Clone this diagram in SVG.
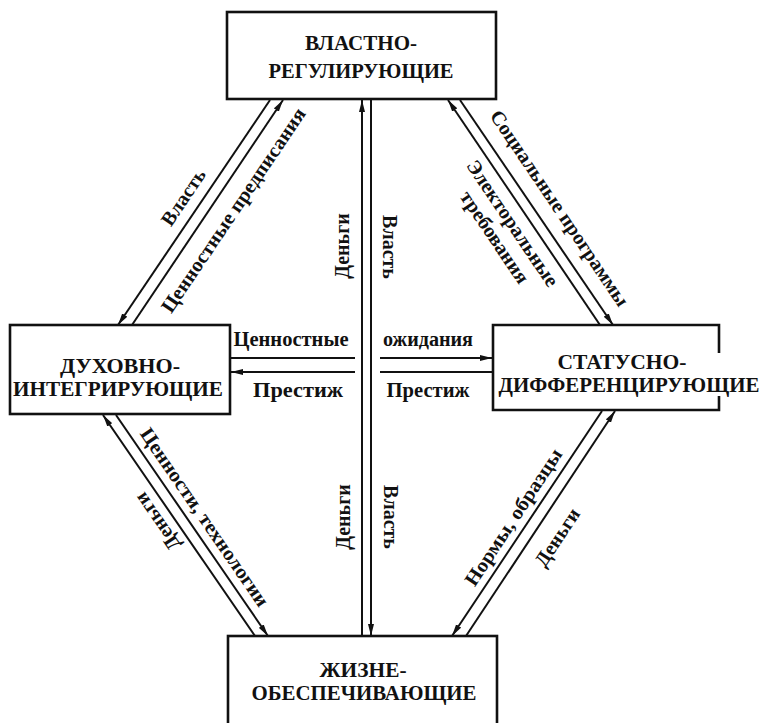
<svg xmlns="http://www.w3.org/2000/svg" width="763" height="723" viewBox="0 0 763 723">
<defs>
<marker id="ah" markerUnits="userSpaceOnUse" markerWidth="13" markerHeight="7" refX="12" refY="3.5" orient="auto">
<path d="M0,0.5 L12,3.5 L0,6.5 z" fill="#111"/>
</marker>
<style>
.box{fill:#fff;stroke:#111;stroke-width:2.6}
.bt{font-family:"Liberation Serif","DejaVu Serif",serif;font-weight:bold;font-size:22px;fill:#111;text-anchor:middle}
.bs{font-size:20px}
.lb{font-family:"Liberation Serif","DejaVu Serif",serif;font-weight:bold;font-size:20px;fill:#111;text-anchor:middle}
.ln{stroke:#111;stroke-width:2;fill:none}
.ar{marker-end:url(#ah)}
</style>
</defs>
<rect width="763" height="723" fill="#fff"/>

<g id="connectors">
<line class="ln ar" x1="270" y1="100" x2="118" y2="325"/>
<line class="ln ar" x1="132" y1="325" x2="283" y2="100"/>
<line class="ln ar" x1="600" y1="325" x2="448" y2="100"/>
<line class="ln ar" x1="460" y1="100" x2="613" y2="325"/>
<line class="ln ar" x1="255" y1="636" x2="103" y2="415"/>
<line class="ln ar" x1="116" y1="415" x2="268" y2="636"/>
<line class="ln ar" x1="602" y1="411" x2="452" y2="636"/>
<line class="ln ar" x1="466" y1="636" x2="615" y2="411"/>
<line class="ln ar" x1="362" y1="636" x2="362" y2="100"/>
<line class="ln ar" x1="371" y1="100" x2="371" y2="636"/>
<line class="ln" x1="231" y1="358" x2="355" y2="358"/>
<line class="ln ar" x1="380" y1="358" x2="492" y2="358"/>
<line class="ln ar" x1="355" y1="372" x2="231" y2="372"/>
<line class="ln" x1="492" y1="372" x2="380" y2="372"/>

<text class="lb" transform="translate(183,197) rotate(-56)" y="7">Власть</text>
<text class="lb" transform="translate(233,210) rotate(-56)" y="7" textLength="242" lengthAdjust="spacingAndGlyphs">Ценностные предписания</text>
<text class="lb" transform="translate(560,208) rotate(56)" y="7" textLength="232" lengthAdjust="spacingAndGlyphs">Социальные программы</text>
<text class="lb" transform="translate(513,223) rotate(56)" y="7" textLength="148" lengthAdjust="spacingAndGlyphs">Электоральные</text>
<text class="lb" transform="translate(495,237) rotate(56)" y="7" textLength="107" lengthAdjust="spacingAndGlyphs">требования</text>
<text class="lb" transform="translate(205,517) rotate(55.5)" y="7" textLength="212" lengthAdjust="spacingAndGlyphs">Ценности, технологии</text>
<text class="lb" transform="translate(157,522) rotate(235.5)" y="7">Деньги</text>
<text class="lb" transform="translate(513,517) rotate(-56.5)" y="7" textLength="160" lengthAdjust="spacingAndGlyphs">Нормы, образцы</text>
<text class="lb" transform="translate(557,537) rotate(-56.5)" y="7">Деньги</text>
<text class="lb" transform="translate(342,246) rotate(-90)" y="7">Деньги</text>
<text class="lb" transform="translate(390,247) rotate(90)" y="7">Власть</text>
<text class="lb" transform="translate(343,517) rotate(-90)" y="7">Деньги</text>
<text class="lb" transform="translate(391,517) rotate(90)" y="7">Власть</text>
<text class="lb" x="291" y="346" textLength="115" lengthAdjust="spacingAndGlyphs">Ценностные</text>
<text class="lb" x="428" y="346" textLength="90" lengthAdjust="spacingAndGlyphs">ожидания</text>
<text class="lb" x="298" y="397" textLength="90" lengthAdjust="spacingAndGlyphs">Престиж</text>
<text class="lb" x="428" y="397" textLength="83" lengthAdjust="spacingAndGlyphs">Престиж</text>
</g>

<g id="node-top">
<rect class="box" x="227" y="12" width="269" height="87"/>
<text class="bt" x="361" y="50" textLength="112" lengthAdjust="spacingAndGlyphs">ВЛАСТНО-</text>
<text class="bt" x="361" y="78" textLength="185" lengthAdjust="spacingAndGlyphs">РЕГУЛИРУЮЩИЕ</text>
</g>

<g id="node-left">
<rect class="box" x="10" y="325" width="220" height="89"/>
<text class="bt" x="120" y="373" textLength="120" lengthAdjust="spacingAndGlyphs">ДУХОВНО-</text>
<text class="bt" x="118" y="396" textLength="210" lengthAdjust="spacingAndGlyphs">ИНТЕГРИРУЮЩИЕ</text>
</g>

<g id="node-right">
<path class="box" d="M719,353 V325 H493 V410 H719 V396"/>
<text class="bt bs" x="622" y="369" textLength="129" lengthAdjust="spacingAndGlyphs">СТАТУСНО-</text>
<text class="bt bs" x="629" y="392" textLength="261" lengthAdjust="spacingAndGlyphs">ДИФФЕРЕНЦИРУЮЩИЕ</text>
</g>

<g id="node-bottom">
<rect class="box" x="228" y="636" width="269" height="100"/>
<text class="bt" x="363" y="677" textLength="87" lengthAdjust="spacingAndGlyphs">ЖИЗНЕ-</text>
<text class="bt" x="364" y="700" textLength="225" lengthAdjust="spacingAndGlyphs">ОБЕСПЕЧИВАЮЩИЕ</text>
</g>
</svg>
